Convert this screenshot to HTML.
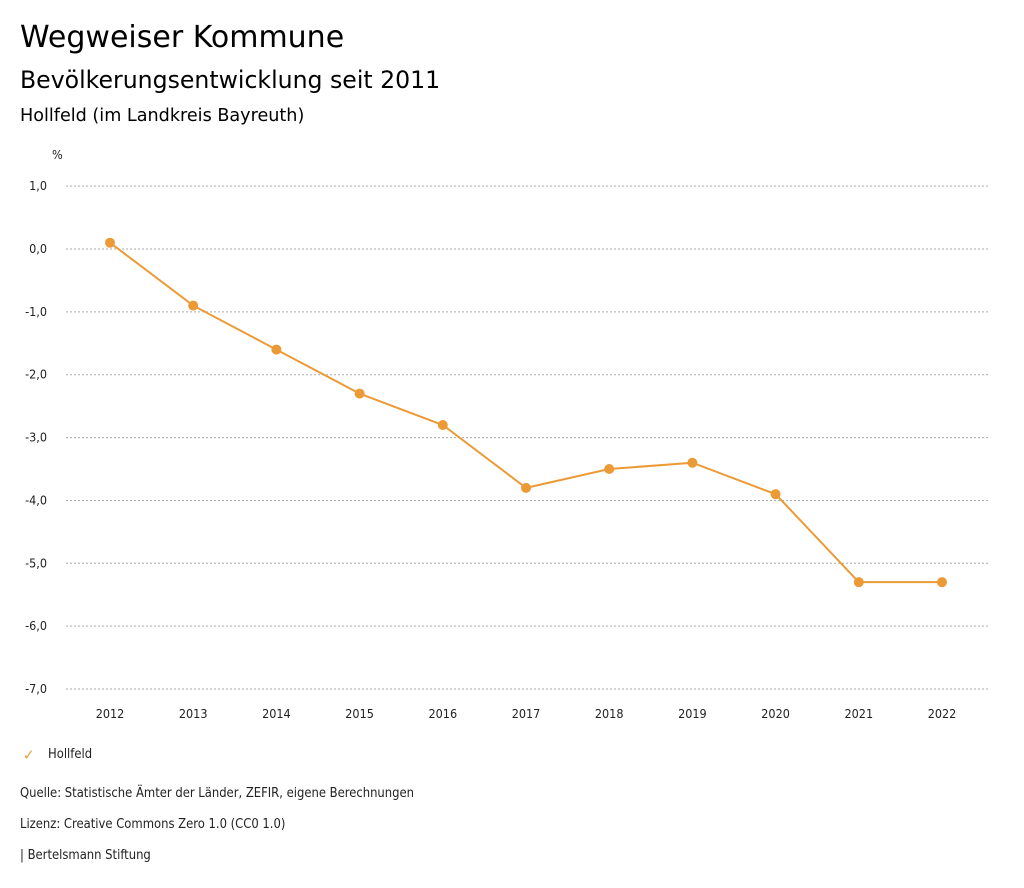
<!DOCTYPE html>
<html><head><meta charset="utf-8"><style>
body{margin:0;background:#fff;width:1024px;height:888px;overflow:hidden;font-family:"DejaVu Sans","Liberation Sans",sans-serif;color:#000}
.t{position:absolute;left:20px;white-space:nowrap}
.s{font-family:"DejaVu Sans Condensed","Liberation Sans",sans-serif;font-size:12.9px;color:#222}
</style></head><body>
<div class="t" style="top:20px;font-size:30px">Wegweiser Kommune</div>
<div class="t" style="top:66px;font-size:23.6px">Bevölkerungsentwicklung seit 2011</div>
<div class="t" style="top:106px;font-size:17.6px;font-weight:500">Hollfeld (im Landkreis Bayreuth)</div>
<svg id="c" width="1024" height="740" style="position:absolute;left:0;top:0"></svg>
<div class="t s" style="left:23px;top:746px"><span style="color:#ec9a35;font-size:15px">✓</span><span style="position:absolute;left:25px;top:1px">Hollfeld</span></div>
<div class="t s" style="top:786px">Quelle: Statistische Ämter der Länder, ZEFIR, eigene Berechnungen</div>
<div class="t s" style="top:817px">Lizenz: Creative Commons Zero 1.0 (CC0 1.0)</div>
<div class="t s" style="top:848px">| Bertelsmann Stiftung</div>
<script>
const years=[2012,2013,2014,2015,2016,2017,2018,2019,2020,2021,2022];
const values=[0.1,-0.9,-1.6,-2.3,-2.8,-3.8,-3.5,-3.4,-3.9,-5.3,-5.3];
const yTicks=[1,0,-1,-2,-3,-4,-5,-6,-7];
const yTickLabels=["1,0","0,0","-1,0","-2,0","-3,0","-4,0","-5,0","-6,0","-7,0"];
const NS="http://www.w3.org/2000/svg",svg=document.getElementById('c');
const y=v=>249-v*62.86, x=i=>110+i*83.2;
const F='DejaVu Sans Condensed,Liberation Sans,sans-serif';
function mk(t,a,txt){const e=document.createElementNS(NS,t);for(const k in a)e.setAttribute(k,a[k]);if(txt!=null)e.textContent=txt;svg.appendChild(e);return e;}
const u=mk('text',{x:52,y:159,'font-size':12.5,'font-family':F,fill:'#222'},'%');


yTicks.forEach((v,i)=>{
 const g=mk('line',{x1:66,x2:990,y1:y(v),y2:y(v),stroke:'#aaa','stroke-dasharray':'2,2','stroke-width':1});
 
 
 const t=mk('text',{x:47,y:y(v)+4,'text-anchor':'end','font-size':12.5,'font-family':F,fill:'#222'},yTickLabels[i]);
 
 
});
years.forEach((yr,i)=>{
 const t=mk('text',{x:x(i),y:718,'text-anchor':'middle','font-size':12.5,'font-family':F,fill:'#222'},yr);
 
 
});
const p=mk('polyline',{points:values.map((v,i)=>x(i)+','+y(v)).join(' '),fill:'none',stroke:'#ec9a35','stroke-width':2});


values.forEach((v,i)=>{
 const c=mk('circle',{cx:x(i),cy:y(v),r:5,fill:'#ec9a35'});
 
 
});
</script>
</body></html>
